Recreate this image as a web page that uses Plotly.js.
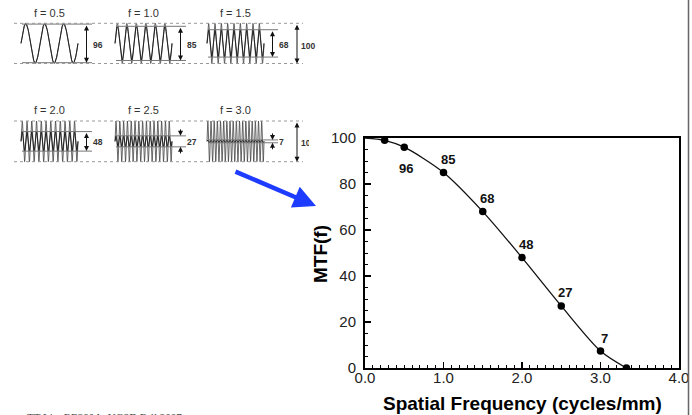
<!DOCTYPE html>
<html>
<head>
<meta charset="utf-8">
<script src="https://cdn.plot.ly/plotly-3.0.1.min.js"></script>
<style>html,body{margin:0;padding:0;background:#fff;}#chart{width:692px;height:415px;}</style>
</head>
<body>
<div id="chart"></div>
<script>
// ---- data ----
const curveFreq = [0, 0.25, 0.5, 1.0, 1.5, 2.0, 2.5, 3.0, 3.33];
const curveMTF  = [100, 99, 96, 85, 68, 48, 27, 7.4, 0];
const panelFreq = [0.5, 1.0, 1.5, 2.0, 2.5, 3.0];
const panelMTF  = [96, 85, 68, 48, 27, 7];
const xTickVals = [0, 1, 2, 3, 4];
const xTickText = ['0.0', '1.0', '2.0', '3.0', '4.0'];
const yTickVals = [0, 20, 40, 60, 80, 100];
const xTitle = 'Spatial Frequency (cycles/mm)';
const yTitle = 'MTF(f)';
const fullScale = 100;
const footer = 'TT Liu, BE280A, UCSD Fall 2007';

// ---- layout helpers (style / geometry only) ----
const W = 692, H = 415;
const px = x => x / W;
const py = y => 1 - y / H;
const FONT = 'Liberation Sans, Arial, sans-serif';
const fieldMM = 6;              // width of each test pattern in mm
const panelX0 = [21, 115, 207]; // left edge of each pattern
const panelW = 57;
const rows = [
  {top: 23.3, bot: 63.5, title: 12.7, xa: 'x2', ya: 'y2'},
  {top: 121, bot: 161.7, title: 109.5, xa: 'x3', ya: 'y3'}
];

const traces = [];
const shapes = [];
const annotations = [];

// main curve
traces.push({
  x: curveFreq, y: curveMTF, type: 'scatter', mode: 'lines',
  line: {color: '#111', width: 1.3, shape: 'spline', smoothing: 0.8},
  xaxis: 'x', yaxis: 'y', hoverinfo: 'skip'
});
traces.push({
  x: curveFreq.slice(1), y: curveMTF.slice(1), type: 'scatter', mode: 'markers',
  marker: {color: '#000', size: 7.5},
  xaxis: 'x', yaxis: 'y', hoverinfo: 'skip'
});
// value labels on the curve
panelFreq.forEach((f, i) => {
  annotations.push({
    x: f, y: panelMTF[i], xref: 'x', yref: 'y',
    text: '<b>' + panelMTF[i] + '</b>', showarrow: false,
    xshift: i === 0 ? 2 : 4, yshift: i === 0 ? -21 : 13,
    font: {family: FONT, size: 13, color: '#111'}
  });
});

// ---- test patterns ----
panelFreq.forEach((f, i) => {
  const r = rows[Math.floor(i / 3)];
  const x0 = panelX0[i % 3];
  const cy = (r.top + r.bot) / 2;
  const h = (r.bot - r.top) / 2;
  const a = h * panelMTF[i] / fullScale;
  const cycles = f * fieldMM;
  const n = Math.ceil(cycles * 24);
  const xs = [], yin = [], yout = [];
  for (let k = 0; k <= n; k++) {
    const t = k / n;
    const s = Math.sin(2 * Math.PI * cycles * t);
    xs.push(x0 + panelW * t);
    yin.push(cy - h * s);
    yout.push(cy - a * s);
  }
  traces.push({x: xs, y: yin, type: 'scatter', mode: 'lines',
    line: {color: '#444', width: 0.8}, xaxis: r.xa, yaxis: r.ya, hoverinfo: 'skip'});
  traces.push({x: xs, y: yout, type: 'scatter', mode: 'lines',
    line: {color: '#222', width: 1}, xaxis: r.xa, yaxis: r.ya, hoverinfo: 'skip'});
  // MTF level lines
  [cy - a, cy + a].forEach(yy => shapes.push({
    type: 'line', xref: r.xa, yref: r.ya, x0: x0 + 1, x1: x0 + 71, y0: yy, y1: yy,
    line: {color: '#777', width: 1}
  }));
  // arrows
  const ax = x0 + 65.5;
  if (2 * a > 15) {
    annotations.push({xref: r.xa, yref: r.ya, axref: r.xa, ayref: r.ya,
      x: ax, y: cy + a, ax: ax, ay: cy - a, text: '', showarrow: true,
      arrowhead: 2, arrowsize: 1, arrowwidth: 1, arrowcolor: '#111',
      arrowside: 'end+start', startarrowhead: 2, startarrowsize: 1});
  } else {
    annotations.push({xref: r.xa, yref: r.ya, axref: r.xa, ayref: r.ya,
      x: ax, y: cy - a, ax: ax, ay: cy - a - 8, text: '', showarrow: true,
      arrowhead: 2, arrowsize: 1, arrowwidth: 1, arrowcolor: '#111'});
    annotations.push({xref: r.xa, yref: r.ya, axref: r.xa, ayref: r.ya,
      x: ax, y: cy + a, ax: ax, ay: cy + a + 8, text: '', showarrow: true,
      arrowhead: 2, arrowsize: 1, arrowwidth: 1, arrowcolor: '#111'});
  }
  // value label
  traces.push({x: [x0 + 72], y: [cy + 2], type: 'scatter', mode: 'text',
    text: ['<b>' + panelMTF[i] + '</b>'], textposition: 'middle right',
    textfont: {family: FONT, size: 8.5, color: '#333'},
    xaxis: r.xa, yaxis: r.ya, hoverinfo: 'skip'});
  // title
  annotations.push({xref: r.xa, yref: r.ya, x: x0 + panelW / 2, y: r.title,
    text: 'f = ' + f.toFixed(1), showarrow: false,
    font: {family: FONT, size: 11, color: '#333'}});
});

// dotted frame lines + full-scale arrows per row
rows.forEach(r => {
  [r.top, r.bot].forEach(yy => shapes.push({
    type: 'line', xref: r.xa, yref: r.ya, x0: 14, x1: 303, y0: yy, y1: yy,
    line: {color: '#999', width: 1, dash: 'dot'}
  }));
  annotations.push({xref: r.xa, yref: r.ya, axref: r.xa, ayref: r.ya,
    x: 297, y: r.bot, ax: 297, ay: r.top, text: '', showarrow: true,
    arrowhead: 2, arrowsize: 1, arrowwidth: 1, arrowcolor: '#111',
    arrowside: 'end+start', startarrowhead: 2, startarrowsize: 1});
  traces.push({x: [301], y: [(r.top + r.bot) / 2 + 3], type: 'scatter', mode: 'text',
    text: ['<b>' + fullScale + '</b>'], textposition: 'middle right',
    textfont: {family: FONT, size: 8.5, color: '#333'},
    xaxis: r.xa, yaxis: r.ya, hoverinfo: 'skip'});
});

// blue arrow
annotations.push({xref: 'paper', yref: 'paper', x: px(316), y: py(206),
  ax: -82, ay: -35, text: '', showarrow: true, arrowhead: 2, arrowsize: 1,
  arrowwidth: 4.5, arrowcolor: 'rgb(30,60,255)'});

// axis titles
annotations.push({xref: 'paper', yref: 'paper', x: px(522), y: py(403),
  xanchor: 'center', yanchor: 'middle',
  text: '<b>' + xTitle + '</b>', showarrow: false,
  font: {family: FONT, size: 19, color: '#000'}});
annotations.push({xref: 'paper', yref: 'paper', x: px(320), y: py(254),
  xanchor: 'center', yanchor: 'middle',
  text: '<b>' + yTitle + '</b>', showarrow: false, textangle: -90,
  font: {family: FONT, size: 19, color: '#000'}});

// footer (clipped at the bottom)
annotations.push({xref: 'paper', yref: 'paper', x: px(25), y: py(409),
  xanchor: 'left', yanchor: 'top', text: footer, showarrow: false,
  font: {family: 'Liberation Serif, Times New Roman, serif', size: 11, color: '#444'}});

// right border
shapes.push({type: 'rect', xref: 'paper', yref: 'paper', x0: px(689), x1: 1, y0: 0, y1: 1,
  fillcolor: '#fff', line: {width: 0}, layer: 'above'});
shapes.push({type: 'line', xref: 'paper', yref: 'paper', x0: px(688.5), x1: px(688.5), y0: 0, y1: 1,
  line: {color: '#666', width: 1.5}, layer: 'above'});

const hidden = {visible: false, fixedrange: true, showgrid: false, zeroline: false};
const layout = {
  width: W, height: H, margin: {l: 0, r: 0, t: 0, b: 0},
  paper_bgcolor: '#fff', plot_bgcolor: 'rgba(0,0,0,0)', showlegend: false,
  font: {family: FONT, color: '#222'},
  xaxis: {domain: [px(365), px(679)], range: [0, 4], anchor: 'y',
    tickvals: xTickVals, ticktext: xTickText, ticks: 'inside', ticklen: 6, tickwidth: 1.2,
    tickcolor: '#000', minor: {dtick: 0.1, ticks: 'inside', ticklen: 3, tickcolor: '#000', tickwidth: 1},
    showline: true, linecolor: '#000', linewidth: 2, mirror: true,
    showgrid: false, zeroline: false, ticklabelstandoff: -5,
    tickfont: {family: FONT, size: 15, color: '#222'}},
  yaxis: {domain: [py(368), py(138)], range: [0, 100], anchor: 'x',
    tickvals: yTickVals, ticks: 'inside', ticklen: 6, tickwidth: 1.2,
    tickcolor: '#000', minor: {dtick: 5, ticks: 'inside', ticklen: 3, tickcolor: '#000', tickwidth: 1},
    showline: true, linecolor: '#000', linewidth: 2, mirror: true,
    showgrid: false, zeroline: false, ticklabelstandoff: 4,
    tickfont: {family: FONT, size: 15, color: '#222'}},
  xaxis2: Object.assign({domain: [0, px(330)], range: [0, 330], anchor: 'y2'}, hidden),
  yaxis2: Object.assign({domain: [py(80), 1], range: [80, 0], anchor: 'x2'}, hidden),
  xaxis3: Object.assign({domain: [0, px(309)], range: [0, 309], anchor: 'y3'}, hidden),
  yaxis3: Object.assign({domain: [py(170), py(90)], range: [170, 90], anchor: 'x3'}, hidden),
  shapes: shapes, annotations: annotations
};
Plotly.newPlot('chart', traces, layout, {staticPlot: true});
</script>
</body>
</html>
